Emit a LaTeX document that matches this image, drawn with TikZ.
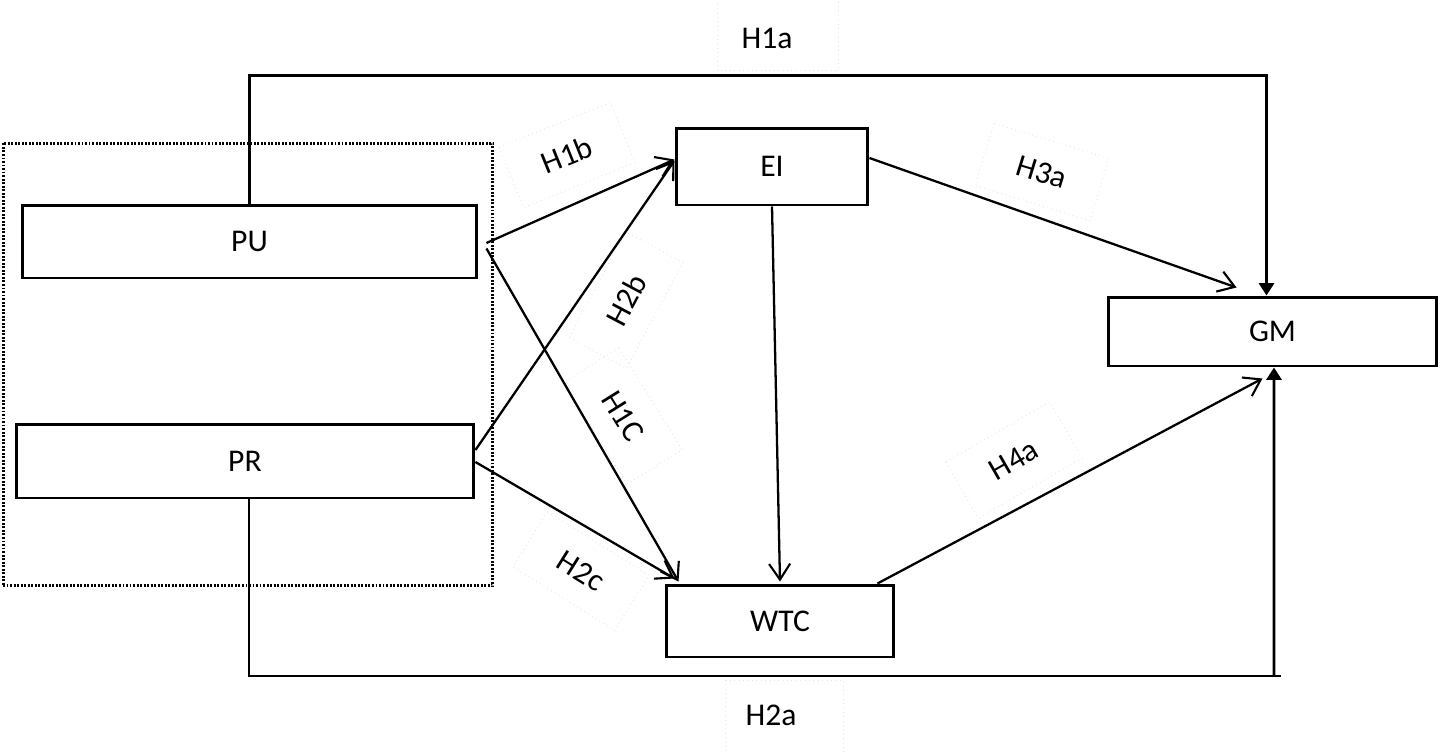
\documentclass[tikz,border=0pt]{standalone}
\usepackage{fontspec}
\setmainfont{Carlito}
\usetikzlibrary{arrows.meta}
\begin{document}
\begin{tikzpicture}[x=0.02cm,y=-0.02cm,
  font=\fontsize{18}{20}\selectfont,
  box/.style={draw,line width=1.7pt,inner sep=0pt},
  conn/.style={line width=1.3pt},
  barb/.style={conn,-{Straight Barb[length=9pt,width=12pt,line width=1.2pt]}},
  tri/.style={line width=1.6pt,-{Triangle[length=7pt,width=8.5pt]}},
  lab/.style={inner sep=1pt},
  faint/.style={draw=black!10,dotted,line width=0.5pt},
  grp/.style={draw,line width=1.7pt,dash pattern=on 1.1pt off 0.9pt,inner sep=0pt}]
\useasboundingbox (0,0) rectangle (1441,751);
% group
\node[grp,minimum width=9.8cm,minimum height=8.86cm] (grp) at (248,364.5) {};
% boxes
\node[box,minimum width=9.1cm,minimum height=1.46cm] (PU) at (249.5,241.5) {PU};
\node[box,minimum width=9.16cm,minimum height=1.48cm] (PR) at (245,461) {PR};
\node[box,minimum width=3.84cm,minimum height=1.54cm] (EI) at (772,166.5) {EI};
\node[box,minimum width=6.58cm,minimum height=1.38cm] (GM) at (1272.5,331.5) {GM};
\node[box,minimum width=4.56cm,minimum height=1.44cm] (WTC) at (780,621) {WTC};
% faint label frames
\draw[faint] (717,-5) rectangle (838,70);
\draw[faint] (725,680) rectangle (843,756);
\draw[faint,rotate around={22:(567,155)}] (507,122.5) rectangle (627,187.5);
\draw[faint,rotate around={62:(626,300)}] (566,267.5) rectangle (686,332.5);
\draw[faint,rotate around={-58:(623,416)}] (563,383.5) rectangle (683,448.5);
\draw[faint,rotate around={-32:(581,571)}] (521,538.5) rectangle (641,603.5);
\draw[faint,rotate around={-17:(1042,172)}] (982,139.5) rectangle (1102,204.5);
\draw[faint,rotate around={30:(1014,460)}] (954,427.5) rectangle (1074,492.5);
% labels
\node[lab] (h1a) at (767,38) {H1a};
\node[lab] (h2a) at (771,715) {H2a};
\node[lab,rotate=22] (h1b) at (567,155) {H1b};
\node[lab,rotate=62] (h2b) at (626,300) {H2b};
\node[lab,rotate=-58] (h1c) at (623,416) {H1C};
\node[lab,rotate=-32] (h2c) at (581,571) {H2c};
\node[lab,rotate=-17] (h3a) at (1042,172) {H3a};
\node[lab,rotate=30] (h4a) at (1014,460) {H4a};
% straight connectors
\draw[barb] ([xshift=0.16cm,yshift=-0.03cm]PU.east) -- ([yshift=0.14cm]EI.west);
\draw[barb] ([xshift=0.16cm,yshift=-0.14cm]PU.east) -- ([xshift=0.28cm,yshift=0.04cm]WTC.north west);
\draw[barb] ([yshift=0.22cm]PR.east) -- ([yshift=0.12cm]EI.west);
\draw[barb] ([yshift=-0.02cm]PR.east) -- ([xshift=0.2cm,yshift=0.1cm]WTC.north west);
\draw[barb] (EI.south) -- ([yshift=0.04cm]WTC.north);
\draw[barb] ([yshift=0.17cm]EI.east) -- ([xshift=2.6cm,yshift=0.16cm]GM.north west);
\draw[barb] ([xshift=-0.36cm]WTC.north east) -- ([xshift=-0.2cm,yshift=-0.22cm]GM.south);
% H1a path
\draw[tri] (PU.north) -- ++(0,-128) -| ([xshift=-0.12cm]GM.north);
% H2a path
\coordinate (h2aend) at (1281,676);
\coordinate (h2aup) at (1274,676);
\draw[line width=1.6pt] ([xshift=0.08cm]PR.south) |- (h2aend);
\draw[tri] (h2aup) -- ([xshift=0.03cm]GM.south);
\end{tikzpicture}
\end{document}
